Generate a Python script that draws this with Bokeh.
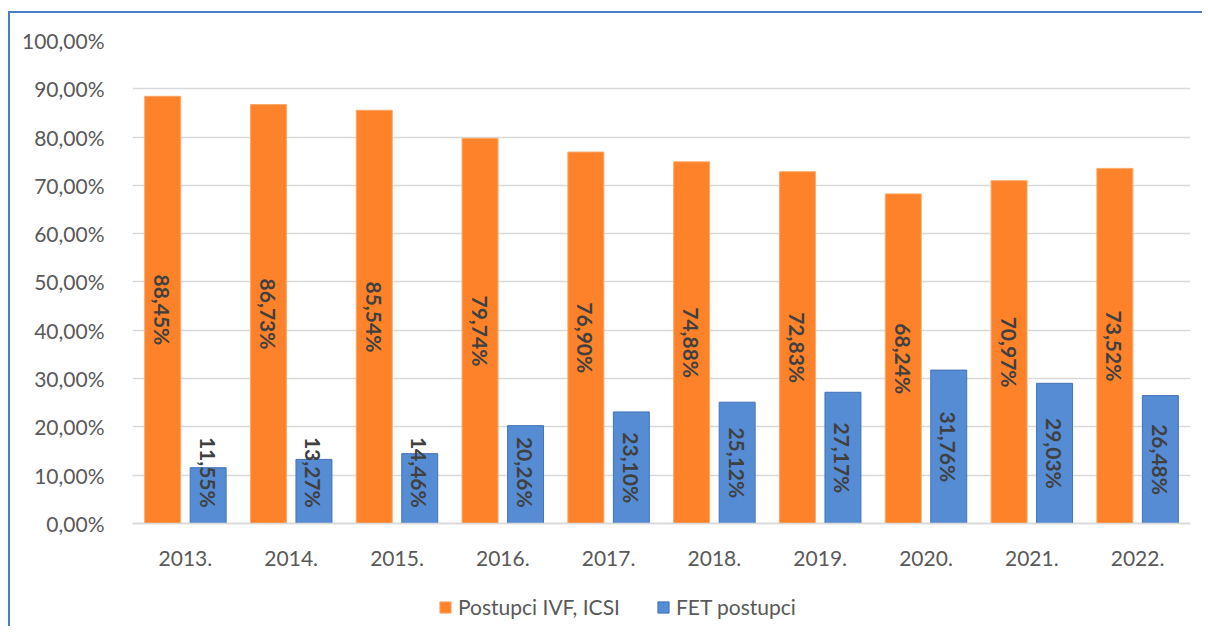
import math
from bokeh.plotting import figure
from bokeh.models import ColumnDataSource, FactorRange, Range1d, Legend, LegendItem, CustomJSTickFormatter, FixedTicker
from bokeh.transform import dodge
from bokeh.core.properties import value
from bokeh.embed import file_html
from bokeh.resources import INLINE

years = ["2013.", "2014.", "2015.", "2016.", "2017.", "2018.", "2019.", "2020.", "2021.", "2022."]
ivf = [88.45, 86.73, 85.54, 79.74, 76.90, 74.88, 72.83, 68.24, 70.97, 73.52]
fet = [11.55, 13.27, 14.46, 20.26, 23.10, 25.12, 27.17, 31.76, 29.03, 26.48]
series_names = ["Postupci IVF, ICSI", "FET postupci"]
y_ticks = [0, 10, 20, 30, 40, 50, 60, 70, 80, 90, 100]

FONT = "Lato"
ORANGE = "#FE822A"
BLUE = "#558CD3"

def fmt(v):
    return f"{v:.2f}".replace(".", ",") + "%"

src = ColumnDataSource(dict(
    year=years, ivf=ivf, fet=fet,
    ivf_lab=[fmt(v) for v in ivf], fet_lab=[fmt(v) for v in fet],
    ivf_pos=[max(v / 2, 10.6) for v in ivf], fet_pos=[max(v / 2, 10.6) for v in fet],
))

# frame extends below zero to hold the category labels and the legend
p = figure(width=1194, height=615, x_range=FactorRange(*years, range_padding=0),
           y_range=Range1d(-21.74, 100), output_backend="svg", toolbar_location=None,
           min_border_left=122, min_border_right=14, min_border_top=27, min_border_bottom=0)
p.styles = {"border-left": "2px solid #4A7EC8", "border-top": "2px solid #4A7EC8",
            "margin-top": "11px", "margin-left": "8px"}
p.outline_line_color = None
p.background_fill_color = "white"
p.border_fill_color = "white"

r1 = p.vbar(x=dodge("year", -0.215, range=p.x_range), top="ivf", width=0.34, source=src,
            fill_color=ORANGE, line_color="#FDA866", line_width=1)
r2 = p.vbar(x=dodge("year", 0.215, range=p.x_range), top="fet", width=0.34, source=src,
            fill_color=BLUE, line_color="#4472B8", line_width=1)

for xo, col, pos in [(-0.215, "ivf_lab", "ivf_pos"), (0.215, "fet_lab", "fet_pos")]:
    p.text(x=dodge("year", xo, range=p.x_range), y=pos, text=col, source=src,
           angle=-math.pi / 2, text_align="center", text_baseline="middle",
           text_font=value(FONT), text_font_style="bold", text_font_size="21px",
           text_color="#404040")

p.xgrid.grid_line_color = None
p.ygrid.grid_line_color = "#D9D9D9"
p.ygrid.grid_line_width = 1.5
p.yaxis.ticker = FixedTicker(ticks=y_ticks)
p.yaxis.formatter = CustomJSTickFormatter(code="return tick.toFixed(2).replace('.', ',') + '%';")
p.yaxis.axis_line_color = None
p.yaxis.major_tick_line_color = None
p.yaxis.minor_tick_line_color = None
p.yaxis.major_label_standoff = 22
p.xaxis.fixed_location = 0
p.xaxis.axis_line_color = "#D9D9D9"
p.xaxis.axis_line_width = 1.5
p.xaxis.major_tick_line_color = None
p.xaxis.minor_tick_line_color = None
p.xaxis.major_label_standoff = 22
for ax in (p.xaxis, p.yaxis):
    ax.major_label_text_font = FONT
    ax.major_label_text_font_size = "21px"
    ax.major_label_text_color = "#595959"

legend = Legend(items=[LegendItem(label=series_names[0], renderers=[r1]),
                       LegendItem(label=series_names[1], renderers=[r2])],
                orientation="horizontal", location=(306, 9))
legend.border_line_color = None
legend.background_fill_alpha = 0
legend.padding = 0
legend.margin = 0
legend.spacing = 36
legend.glyph_width = 14
legend.glyph_height = 14
legend.label_standoff = 6
legend.label_text_font = FONT
legend.label_text_font_size = "21px"
legend.label_text_color = "#595959"
p.add_layout(legend, "center")

open("out.html", "w").write(file_html(p, INLINE))
